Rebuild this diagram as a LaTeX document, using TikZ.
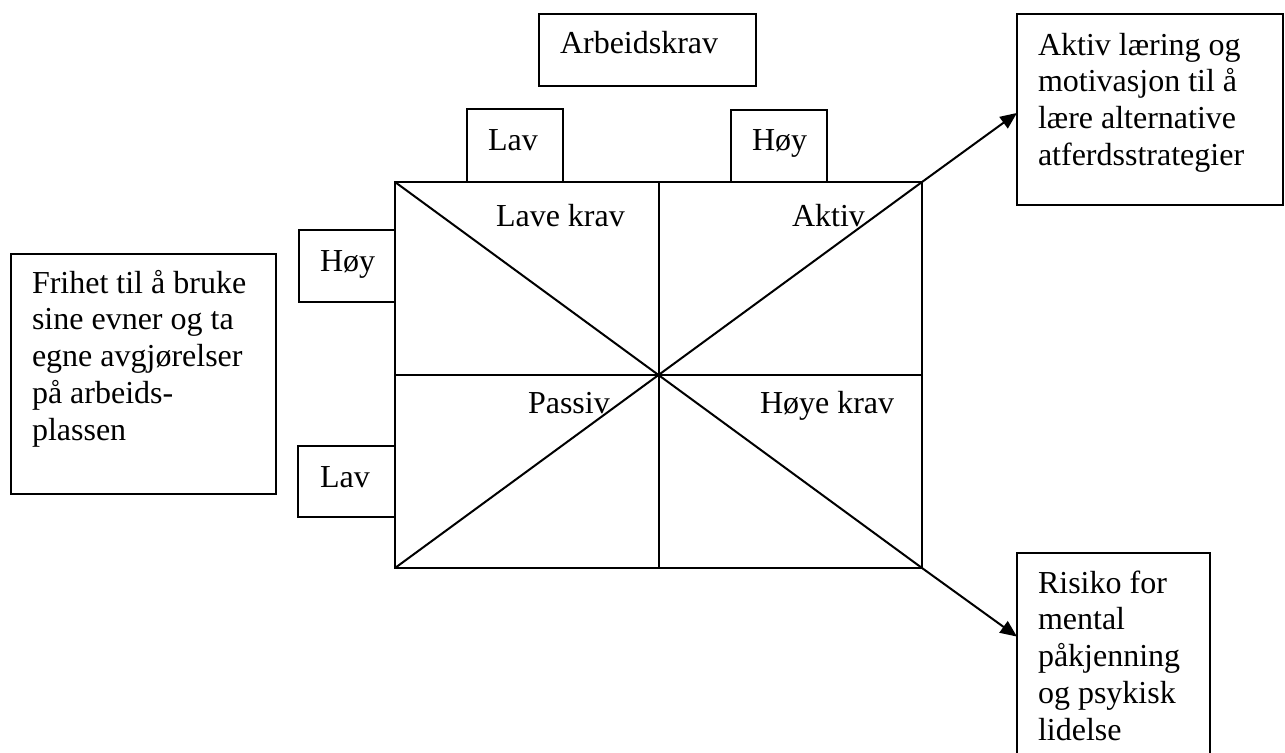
\documentclass[tikz,border=0pt]{standalone}
\usepackage{fontspec}
\setmainfont{Liberation Serif}
\usetikzlibrary{arrows.meta,calc}
\begin{document}
\begin{tikzpicture}[x=0.75pt,y=-0.75pt,
  every node/.style={font=\fontsize{24}{27.6}\selectfont, inner sep=0pt, outer sep=0pt},
  boxnode/.style={draw, line width=1.5pt, anchor=north west, minimum width=#1},
  txt/.style={anchor=base west},
  conn/.style={line width=1.5pt},
  arr/.style={line width=1.5pt, -{Triangle[length=12.5pt,width=10.5pt]}}]
\useasboundingbox (0,0) rectangle (1285,753);
\clip (0,0) rectangle (1285,753);
% main grid
\node[boxnode=395.25pt, minimum height=289.5pt] (grid) at (395,182) {};
\draw[conn] (grid.north) -- (grid.south);
\draw[conn] (grid.west) -- (grid.east);
\draw[conn] (grid.north west) -- (grid.south east);
\draw[conn] (grid.south west) -- (grid.north east);
% boxes
\node[boxnode=162.75pt, minimum height=54pt] (arb) at (539,14) {};
\node[boxnode=72pt, minimum height=54.75pt] (lavT) at (467,109) {};
\node[boxnode=72pt, minimum height=54pt] (hoyT) at (731,110) {};
\node[boxnode=72pt, minimum height=54pt] (hoyL) at (299,230) {};
\node[boxnode=72.75pt, minimum height=53.25pt] (lavL) at (298,446) {};
\node[boxnode=198.75pt, minimum height=180pt] (frihet) at (11,254) {};
\node[boxnode=199.5pt, minimum height=143.25pt] (akt) at (1017,14) {};
\node[boxnode=144.75pt, minimum height=190pt] (ris) at (1017,553) {};
% texts
\node[txt] (tarb) at (560,53) {Arbeidskrav};
\node[txt] (tlavT) at (488,150) {Lav};
\node[txt] (thoyT) at (752,150) {Høy};
\node[txt] (thoyL) at (320,271) {Høy};
\node[txt] (tlavL) at (320,487) {Lav};
\node[txt] (tlk) at (496,226) {Lave krav};
\node[txt] (tak) at (792,226) {Aktiv};
\node[txt] (tpa) at (528,413) {Passiv};
\node[txt] (thk) at (760,413) {Høye krav};
\node[txt] (tfri) at (32,293) {\begin{tabular}[t]{@{}l@{}}Frihet til å bruke\\sine evner og ta\\egne avgjørelser\\på arbeids-\\plassen\end{tabular}};
\node[txt] (takt) at (1038,55) {\begin{tabular}[t]{@{}l@{}}Aktiv læring og\\motivasjon til å\\lære alternative\\atferdsstrategier\end{tabular}};
\node[txt] (tris) at (1038,593) {\begin{tabular}[t]{@{}l@{}}Risiko for\\mental\\påkjenning\\og psykisk\\lidelse\end{tabular}};
% arrows
\draw[arr] (grid.north east) -- ($(akt.north west)!0.518!(akt.south west)$);
\draw[arr] (grid.south east) -- ($(ris.north west)!0.33!(ris.south west)$);
\end{tikzpicture}
\end{document}
